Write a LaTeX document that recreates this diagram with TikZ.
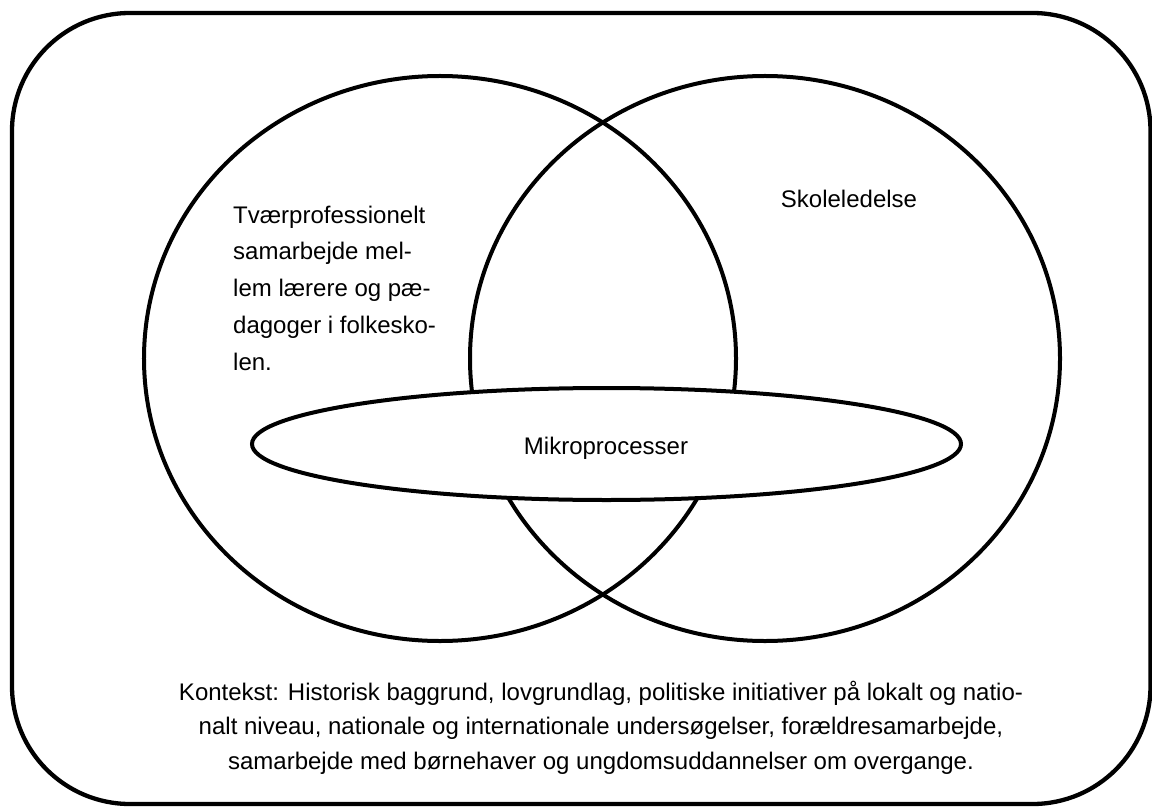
\documentclass[tikz,border=0pt]{standalone}
\usepackage{fontspec}
\setmainfont{Liberation Sans}
\usetikzlibrary{shapes.geometric}
\begin{document}
\begin{tikzpicture}[x=1bp,y=-1bp,
  frame/.style={draw=black,line width=4.3bp,rounded corners=118bp},
  setring/.style={draw=black,line width=4bp,ellipse,inner sep=0pt},
  lbl/.style={inner sep=0pt,font=\fontsize{24bp}{36.7bp}\selectfont},
]
\useasboundingbox (0,0) rectangle (1152,807);
\fill[white] (0,0) rectangle (1152,807);
\draw[frame] (12,13) rectangle (1150.5,804);
\node[setring,minimum width=592bp,minimum height=565bp] (left) at (440,358.5) {};
\node[setring,minimum width=590bp,minimum height=565bp] (right) at (765,358.5) {};
\node[setring,fill=white,minimum width=709bp,minimum height=112bp] (micro) at (606.5,444) {};
\node[lbl,anchor=base] (mtext) at (606,454) {Mikroprocesser};
\node[lbl,anchor=base west,align=left] (tvaer) at (233,370) {Tværprofessionelt\\samarbejde mel-\\lem lærere og pæ-\\dagoger i folkesko-\\len.};
\node[lbl,anchor=base] (skole) at (849,207) {Skoleledelse};
\node[lbl,anchor=base,align=center,font=\fontsize{24bp}{34.5bp}\selectfont] (kontekst) at (601,769) {Kontekst: Historisk baggrund, lovgrundlag, politiske initiativer på lokalt og natio-\\nalt niveau, nationale og internationale undersøgelser, forældresamarbejde,\\samarbejde med børnehaver og ungdomsuddannelser om overgange.};
\end{tikzpicture}
\end{document}
